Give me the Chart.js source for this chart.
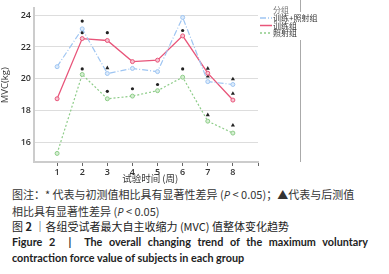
<!DOCTYPE html>
<html>
<head>
<meta charset="utf-8">
<script src="https://cdn.jsdelivr.net/npm/chart.js@4"></script>
<style>
  body { margin: 0; background: #fff; width: 389px; height: 274px; overflow: hidden; }
  #wrap { position: relative; width: 389px; height: 184px; }
  .cap { position: absolute; left: 12px; white-space: nowrap; font-family: "Noto Sans CJK SC", "Noto Sans", sans-serif; font-size: 11px; color: #333; line-height: 16px; }
  .cap i { font-family: "Open Sans", sans-serif; }
  .en { font-family: Lato, "Open Sans", sans-serif; font-weight: bold; font-size: 10.8px; color: #222; white-space: normal; width: 356px; text-align: justify; text-align-last: left; }
</style>
</head>
<body>
<div id="wrap"><canvas id="myChart" width="389" height="184"></canvas></div>
<div class="cap" style="top:186px;">图注：* 代表与初测值相比具有显著性差异 (<i>P</i> &lt; 0.05)；▲代表与后测值<br>相比具有显著性差异 (<i>P</i> &lt; 0.05)</div>
<div class="cap" style="top:218px; color:#222;">图 <b>2</b> ｜各组受试者最大自主收缩力 (MVC) 值整体变化趋势</div>
<div class="cap en" style="top:234px;">Figure 2 &nbsp;| &nbsp;The overall changing trend of the maximum voluntary contraction force value of subjects in each group</div>
<script>
var weeks = [1, 2, 3, 4, 5, 6, 7, 8];
var trainLight = [20.76, 23.14, 20.33, 20.65, 20.45, 23.86, 19.82, 19.64];
var train = [18.74, 22.53, 22.41, 21.08, 21.17, 22.70, 20.35, 18.66];
var light = [15.30, 20.27, 18.74, 18.91, 19.25, 20.10, 17.33, 16.58];
// * vs baseline
var starWeeks = [2, 2, 2, 3, 3, 4, 5, 6, 6];
var starValues = [23.63, 22.90, 20.62, 22.90, 19.21, 19.37, 19.64, 23.04, 20.62];
// triangle vs post test
var triWeeks = [3, 7, 7, 7, 8, 8, 8];
var triValues = [20.68, 20.65, 20.15, 17.72, 19.98, 19.07, 17.07];

function pts(xs, ys) {
    return xs.map(function (x, i) { return { x: x, y: ys[i] }; });
}

// frame line on the right + hand-drawn legend
var sideLegend = {
    id: 'sideLegend',
    afterDraw: function (chart) {
        var c = chart.ctx;
        c.save();
        c.strokeStyle = '#aaa';
        c.lineWidth = 1;
        c.beginPath();
        c.moveTo(300.5, 0); c.lineTo(300.5, 12);
        c.moveTo(300.5, 40); c.lineTo(300.5, 162);
        c.stroke();

        c.font = '8px "Noto Sans CJK SC"';
        c.textBaseline = 'middle';
        c.fillStyle = '#777';
        c.textAlign = 'center';
        c.fillText('分组', 281, 10);
        c.textAlign = 'left';
        for (var i = 0; i < 3; i++) {
            var ds = chart.data.datasets[i];
            var y = 18 + i * 7.5;
            c.strokeStyle = ds.borderColor;
            c.lineWidth = 1.5;
            c.setLineDash(ds.borderDash || []);
            c.beginPath();
            c.moveTo(260, y); c.lineTo(272, y);
            c.stroke();
            c.setLineDash([]);
            c.fillStyle = '#333';
            c.fillText(ds.label, 273, y);
        }
        c.restore();
    }
};

var ctx = document.getElementById('myChart').getContext('2d');
var myChart = new Chart(ctx, {
    type: 'line',
    data: {
        datasets: [{
            label: '训练+照射组',
            data: pts(weeks, trainLight),
            borderColor: '#9ec5f2',
            backgroundColor: '#dcebfb',
            borderWidth: 1.2,
            borderDash: [6, 2, 1, 2],
            pointRadius: 2,
            pointBorderWidth: 1,
            tension: 0
        }, {
            label: '训练组',
            data: pts(weeks, train),
            borderColor: '#e8557a',
            backgroundColor: '#f7c5d2',
            borderWidth: 1.3,
            pointRadius: 2,
            pointBorderWidth: 1,
            tension: 0
        }, {
            label: '照射组',
            data: pts(weeks, light),
            borderColor: '#8dcc88',
            backgroundColor: '#d6efd3',
            borderWidth: 1.2,
            borderDash: [2, 2],
            pointRadius: 2,
            pointBorderWidth: 1,
            tension: 0
        }, {
            label: 'star',
            data: pts(starWeeks, starValues),
            showLine: false,
            pointStyle: 'circle',
            pointRadius: 1.6,
            backgroundColor: '#222',
            borderColor: '#222',
            borderWidth: 0
        }, {
            label: 'tri',
            data: pts(triWeeks, triValues),
            showLine: false,
            pointStyle: 'triangle',
            pointRadius: 2.4,
            backgroundColor: '#222',
            borderColor: '#222',
            borderWidth: 0
        }]
    },
    plugins: [sideLegend],
    options: {
        responsive: false,
        animation: false,
        layout: { padding: { top: 4, right: 131, left: 0, bottom: 0 } },
        plugins: {
            tooltip: { enabled: false },
            legend: { display: false }
        },
        scales: {
            x: {
                type: 'linear',
                min: 0.08,
                max: 9,
                afterFit: function (s) { s.height = 22; },
                ticks: {
                    stepSize: 1,
                    includeBounds: false,
                    padding: 1,
                    color: '#333',
                    font: { size: 9, family: '"Open Sans"', weight: '600' },
                    callback: function (v) { return v >= 1 && v <= 8 ? v : ''; }
                },
                grid: { drawOnChartArea: false, tickLength: 4, tickColor: '#666' },
                border: { color: '#ccc', width: 2 },
                title: {
                    display: true,
                    text: '    试验时间 (周)',
                    color: '#333',
                    font: { size: 9.5, family: '"Noto Sans CJK SC"' },
                    padding: { top: -3, bottom: 0 }
                }
            },
            y: {
                min: 14.76,
                max: 24.43,
                afterFit: function (s) { s.width = 34; },
                ticks: {
                    stepSize: 2,
                    includeBounds: false,
                    padding: 3,
                    color: '#333',
                    font: { size: 9, family: '"Open Sans"', weight: '600' }
                },
                grid: { color: '#ddd', drawTicks: false },
                border: { color: '#ccc', width: 2 },
                title: {
                    display: true,
                    text: 'MVC(kg)',
                    color: '#333',
                    font: { size: 9.5, family: '"Open Sans"' },
                    padding: 0
                }
            }
        }
    }
});
</script>
</body>
</html>
